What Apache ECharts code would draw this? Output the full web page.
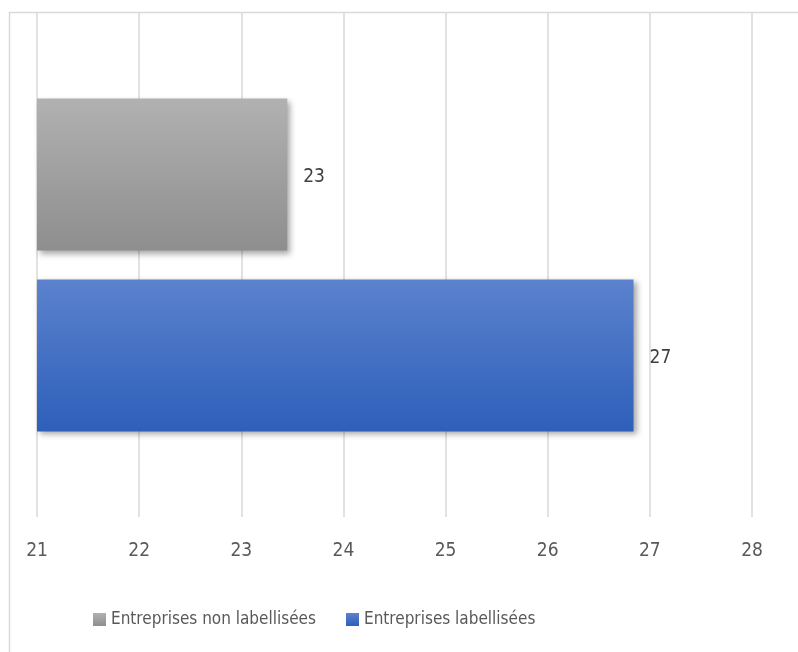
<!DOCTYPE html>
<html><head><meta charset="utf-8">
<script src="https://cdn.jsdelivr.net/npm/echarts@6/dist/echarts.min.js"></script>
<style>html,body{margin:0;padding:0;background:#fff}#c{width:798px;height:652px}</style>
</head><body><div id="c"></div>
<script>
const categories = [''];
const seriesNames = ['Entreprises non labellisées', 'Entreprises labellisées'];
const valuesNonLabel = [23.45];
const valuesLabel = [26.84];
const xTicks = [21, 22, 23, 24, 25, 26, 27, 28];

const FONT = '"Liberation Sans Narrow", "DejaVu Sans Condensed", sans-serif';
const chart = echarts.init(document.getElementById('c'));
const grayGrad = new echarts.graphic.LinearGradient(0,0,0,1,[{offset:0,color:'#b1b1b1'},{offset:1,color:'#8e8e8e'}]);
const blueGrad = new echarts.graphic.LinearGradient(0,0,0,1,[{offset:0,color:'#5b82cd'},{offset:1,color:'#2e5fba'}]);
const lbl = {show:true, position:'right', distance:16, color:'#404040', fontFamily:FONT, fontSize:19,
  offset:[0,3], formatter: p => Math.round(p.value)};
const shadow = {shadowBlur:6, shadowOffsetX:3, shadowOffsetY:3, shadowColor:'rgba(0,0,0,0.35)'};
chart.setOption({
  animation:false,
  graphic:[{type:'rect', shape:{x:9.5,y:12.5,width:820,height:680}, style:{fill:'none',stroke:'#d9d9d9',lineWidth:1.5}, z:-1}],
  grid:{left:37, right:46, top:13, bottom:135, containLabel:false},
  legend:{bottom:19, left:88, itemWidth:13, itemHeight:13, itemGap:30, itemTextGap:3, icon:'rect',
    data:seriesNames,
    textStyle:{color:'#595959', fontFamily:FONT, fontSize:17}},
  xAxis:{type:'value', min:xTicks[0], max:xTicks[xTicks.length-1], interval:1,
    axisLine:{show:false}, axisTick:{show:false},
    axisLabel:{color:'#595959', fontFamily:FONT, fontSize:19, margin:25},
    splitLine:{lineStyle:{color:'#d9d9d9', width:1.5}}},
  yAxis:{type:'category', data:categories, axisLine:{show:false}, axisTick:{show:false}, axisLabel:{show:false}},
  series:[
    {name:seriesNames[0], type:'bar', data:valuesNonLabel, barWidth:152, barGap:'19%',
     itemStyle:Object.assign({color:grayGrad}, shadow), label:lbl},
    {name:seriesNames[1], type:'bar', data:valuesLabel, barWidth:152, barGap:'19%',
     itemStyle:Object.assign({color:blueGrad}, shadow), label:lbl}
  ]
});
</script></body></html>
